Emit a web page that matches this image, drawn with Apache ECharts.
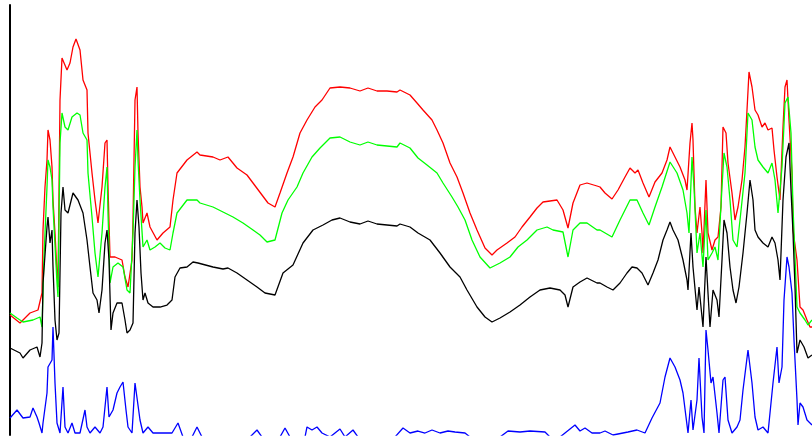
<!DOCTYPE html>
<html>
<head>
<meta charset="utf-8">
<script src="https://cdn.jsdelivr.net/npm/echarts@6/dist/echarts.min.js"></script>
<style>
  html, body { margin: 0; padding: 0; background: #fff; }
  #chart { width: 812px; height: 440px; }
</style>
</head>
<body>
<div id="chart"></div>
<script>
// samples as [position, level]
const red = [
  [0,125],[10,117],[20,127],[28,130],[32,147],[33,210],[35,253],[37,280],[38,310],[40,300],[42,273],[43,240],[45,207],[47,167],[48,153],
  [50,340],[52,382],[57,370],[60,377],[63,393],[66,401],[70,390],[73,360],[77,350],[78,307],[82,267],[85,240],[88,217],[92,253],[95,297],
  [97,300],[98,253],[100,183],[105,183],[112,180],[115,163],[118,153],[122,180],[123,220],[125,340],[127,353],[128,307],[130,253],[132,233],
  [133,217],[137,227],[140,213],[147,200],[153,207],[160,213],[163,240],[167,267],[177,280],[187,288],
  [190,285],[203,283],[210,280],[218,283],[227,272],[237,265],[243,257],[252,245],[258,237],[265,233],[270,247],[277,267],[283,283],[290,307],
  [297,320],[305,333],[312,340],[320,352],[330,353],[340,352],[350,349],[358,352],[367,349],[377,349],[387,348],
  [390,350],[400,345],[407,337],[413,330],[422,320],[427,310],[433,297],[440,277],[447,263],[453,247],[460,227],[467,210],[475,192],[482,185],
  [487,190],[497,197],[505,203],[512,213],[520,223],[527,232],[533,238],[547,240],[553,230],[558,212],[563,237],[570,255],[577,257],[587,254],
  [590,253],[595,247],[602,241],[608,250],[615,263],[620,272],[625,267],[628,270],[633,257],[639,243],[645,258],[652,267],[657,280],[660,293],
  [665,283],[670,273],[675,260],[677,250],[680,297],[682,317],[683,300],[685,233],[687,207],[690,233],[692,207],[693,187],[696,260],[698,207],
  [702,190],[705,200],[708,203],[711,233],[713,313],[716,307],[718,277],[722,247],[725,220],[728,233],[732,260],[735,293],[737,330],[739,368],
  [742,353],[745,330],[748,325],[752,313],[755,317],[758,310],[762,312],[764,290],[767,263],[770,240],[773,313],[775,353],[777,360],[779,320],
  [782,267],[783,210],[787,180],[790,133],[793,130],[797,120],[800,113],[802,113]
];
const green = [
  [0,127],[7,122],[13,118],[23,120],[30,123],[32,113],[34,183],[37,253],[38,280],[40,273],[42,260],[43,233],[47,157],[48,143],[50,297],
  [52,327],[55,313],[58,310],[62,323],[67,327],[70,325],[73,307],[77,300],[78,267],[82,223],[85,187],[88,163],[92,207],[95,253],[97,273],
  [98,227],[100,157],[103,173],[108,177],[113,173],[117,150],[120,147],[123,207],[125,273],[127,310],[128,280],[130,240],[133,193],[137,200],
  [140,190],[145,193],[150,197],[155,192],[160,190],[163,207],[167,227],[177,240],[187,240],
  [190,237],[203,233],[213,228],[223,223],[233,217],[243,210],[250,205],[257,198],[265,200],[272,227],[278,240],[287,253],[293,267],[302,283],
  [310,292],[320,302],[330,303],[340,298],[350,295],[358,298],[367,295],[377,294],[387,293],
  [390,297],[400,292],[408,282],[417,275],[427,267],[433,257],[442,243],[448,233],[455,220],[462,200],[470,183],[480,172],[490,177],[500,183],
  [508,193],[517,200],[527,210],[537,213],[543,210],[553,208],[558,183],[563,210],[570,217],[577,217],[587,210],
  [590,210],[602,203],[610,220],[620,240],[627,240],[633,227],[639,215],[645,233],[652,253],[660,278],[667,267],[673,250],[677,227],[679,207],
  [682,283],[684,253],[687,187],[690,207],[693,173],[696,230],[698,180],[702,187],[705,193],[708,180],[712,253],[714,287],[717,273],[720,240],
  [723,200],[727,193],[730,220],[735,267],[738,327],[742,320],[745,293],[748,280],[753,273],[758,267],[762,277],[765,260],[768,227],[772,273],
  [775,337],[778,343],[781,307],[783,233],[787,133],[790,127],[795,120],[798,115],[802,120]
];
const black = [
  [0,92],[10,87],[13,82],[20,90],[27,93],[30,83],[32,97],[33,157],[37,213],[38,223],[40,197],[42,210],[43,173],[45,120],[47,100],[49,107],
  [51,227],[53,253],[55,230],[58,227],[63,247],[68,240],[73,227],[77,200],[80,173],[83,147],[87,140],[89,127],[92,150],[95,197],[97,210],
  [99,180],[101,110],[103,127],[107,137],[112,137],[115,120],[117,107],[120,110],[123,117],[125,207],[127,240],[129,213],[131,167],[133,140],
  [135,147],[138,137],[143,133],[150,133],[157,135],[162,140],[165,163],[170,172],[177,173],[183,178],[188,177],
  [190,175],[203,173],[213,171],[218,172],[227,167],[237,160],[247,153],[255,147],[265,145],[273,167],[283,175],[293,197],[303,210],[313,215],
  [322,220],[330,222],[340,218],[350,216],[358,219],[367,216],[377,215],[387,214],
  [390,216],[400,213],[408,207],[420,200],[430,187],[440,173],[450,163],[457,150],[467,133],[475,123],[482,118],[490,122],[500,128],[510,135],
  [520,143],[530,150],[540,152],[550,150],[555,145],[558,133],[563,153],[570,158],[577,162],[587,157],
  [590,157],[597,153],[603,150],[610,157],[617,167],[622,173],[627,172],[632,167],[638,155],[643,167],[648,180],[653,200],[657,210],[660,218],
  [663,210],[668,200],[673,180],[677,160],[678,150],[681,207],[683,173],[687,130],[689,153],[692,123],[693,113],[696,183],[698,147],[700,113],
  [703,150],[707,140],[709,123],[712,180],[714,220],[717,207],[720,173],[723,150],[726,137],[729,153],[733,187],[737,227],[740,260],[743,240],
  [745,210],[748,203],[753,197],[758,193],[762,203],[765,197],[768,180],[770,160],[773,240],[776,283],[779,297],[781,250],[783,207],[785,153],
  [787,87],[790,100],[794,93],[798,82],[802,85]
];
const blue = [
  [0,22],[7,30],[13,22],[20,23],[23,32],[27,23],[29,17],[32,7],[33,17],[37,47],[38,73],[42,80],[43,113],[45,57],[47,17],[50,7],[53,53],
  [55,13],[58,7],[62,17],[65,7],[70,7],[75,30],[77,13],[80,7],[85,13],[90,7],[93,13],[97,53],[99,23],[103,30],[107,47],[110,53],[113,58],
  [116,30],[118,13],[122,7],[125,57],[127,58],[130,20],[133,7],[138,13],[143,7],[157,7],[162,7],
  [168,17],[173,3],[182,3],[187,13],[192,3],[240,3],[247,10],[252,3],[270,3],[275,12],[280,3],[295,3],[297,13],[302,10],[307,13],[312,7],
  [320,3],[330,11],[335,3],[343,10],[348,3],[385,3],[393,12],[400,7],[408,9],[415,7],[422,10],[430,7],[438,9],[445,8],[455,7],[460,3],
  [490,3],[498,9],[510,8],[520,9],[535,8],[540,3],[550,3],[565,15],[570,9],[575,12],[582,7],[590,7],[595,9],[603,5],[618,8],[627,10],
  [635,7],[642,22],[650,37],[655,63],[660,82],[665,73],[670,60],[673,47],[676,23],[678,7],[681,40],[683,10],[687,40],[689,82],[692,23],
  [694,7],[696,110],[698,90],[701,57],[703,63],[707,27],[709,7],[713,60],[715,63],[718,20],[722,7],[727,13],[730,20],[733,50],[738,90],
  [742,57],[745,23],[748,10],[753,13],[758,7],[763,57],[767,93],[769,57],[772,73],[774,140],[777,183],[779,173],[782,147],[784,100],
  [787,40],[788,15],[790,37],[793,33],[797,20],[800,17],[802,15]
];

const SERIES = [
  { name: "red", data: red, color: "#ff0000" },
  { name: "green", data: green, color: "#00ff00" },
  { name: "black", data: black, color: "#000000" },
  { name: "blue", data: blue, color: "#0000ff" },
];

const chart = echarts.init(document.getElementById("chart"));
chart.setOption({
  animation: false,
  backgroundColor: "#ffffff",
  grid: { left: 10, right: 0, top: 5, bottom: 5 },
  xAxis: {
    type: "value",
    min: 0,
    max: 802,
    show: false,
  },
  yAxis: {
    type: "value",
    min: 5,
    max: 435,
    axisLine: { show: true, lineStyle: { color: "#000", width: 2 } },
    axisTick: { show: false },
    axisLabel: { show: false },
    splitLine: { show: false },
  },
  series: SERIES.map((s) => ({
    name: s.name,
    type: "line",
    data: s.data,
    showSymbol: false,
    clip: true,
    lineStyle: { color: s.color, width: 1.3 },
    itemStyle: { color: s.color },
  })),
});
</script>
</body>
</html>
